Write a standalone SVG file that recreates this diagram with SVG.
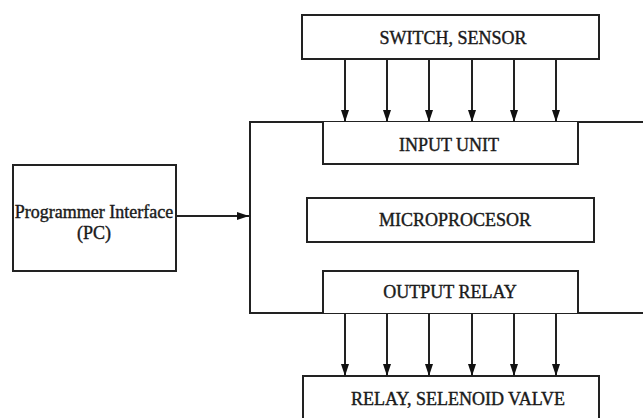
<svg xmlns="http://www.w3.org/2000/svg" width="643" height="418" viewBox="0 0 643 418">
<style>
.box{fill:#fff;stroke:#222;stroke-width:2}
.ln{fill:none;stroke:#222;stroke-width:2}
.t{font-family:"Liberation Serif","Times New Roman",serif;font-size:18px;fill:#1a1a1a;stroke:#1a1a1a;stroke-width:0.4;text-anchor:middle;dominant-baseline:central}
</style>
<defs>
<marker id="ah" viewBox="0 0 12 8" refX="12" refY="4" markerWidth="6" markerHeight="4" orient="auto" markerUnits="strokeWidth">
<path d="M0,0 L12,4 L0,8 z" fill="#111"/>
</marker>
</defs>
<rect width="643" height="418" fill="#fff"/>
<g id="plc">
<path class="ln" d="M643,122 H250 V313 H643"/>
</g>
<g id="switch-sensor">
<rect class="box" x="302" y="15" width="297" height="44"/>
<text class="t" x="453" y="38">SWITCH, SENSOR</text>
</g>
<g id="input-unit">
<path class="box" d="M323,122 V164 H578 V122"/>
<text class="t" x="449" y="145">INPUT UNIT</text>
</g>
<g id="microprocessor">
<rect class="box" x="307" y="198" width="287" height="44"/>
<text class="t" x="455" y="220">MICROPROCESOR</text>
</g>
<g id="output-relay">
<path class="box" d="M323,313 V271 H578 V313"/>
<text class="t" x="450" y="292">OUTPUT RELAY</text>
</g>
<g id="relay-valve">
<rect class="box" x="303" y="376" width="296" height="50"/>
<text class="t" x="458" y="399">RELAY, SELENOID VALVE</text>
</g>
<g id="programmer">
<rect class="box" x="13" y="165" width="163" height="106"/>
<text class="t" x="94" y="212">Programmer Interface</text>
<text class="t" x="94" y="233">(PC)</text>
</g>
<g id="connectors">
<path class="ln" d="M176,216 H249" marker-end="url(#ah)"/>
<path class="ln" d="M345,59 V122" marker-end="url(#ah)"/>
<path class="ln" d="M387,59 V122" marker-end="url(#ah)"/>
<path class="ln" d="M429,59 V122" marker-end="url(#ah)"/>
<path class="ln" d="M472,59 V122" marker-end="url(#ah)"/>
<path class="ln" d="M514,59 V122" marker-end="url(#ah)"/>
<path class="ln" d="M556,59 V122" marker-end="url(#ah)"/>
<path class="ln" d="M345,313 V376" marker-end="url(#ah)"/>
<path class="ln" d="M387,313 V376" marker-end="url(#ah)"/>
<path class="ln" d="M429,313 V376" marker-end="url(#ah)"/>
<path class="ln" d="M472,313 V376" marker-end="url(#ah)"/>
<path class="ln" d="M514,313 V376" marker-end="url(#ah)"/>
<path class="ln" d="M556,313 V376" marker-end="url(#ah)"/>
</g>
</svg>
